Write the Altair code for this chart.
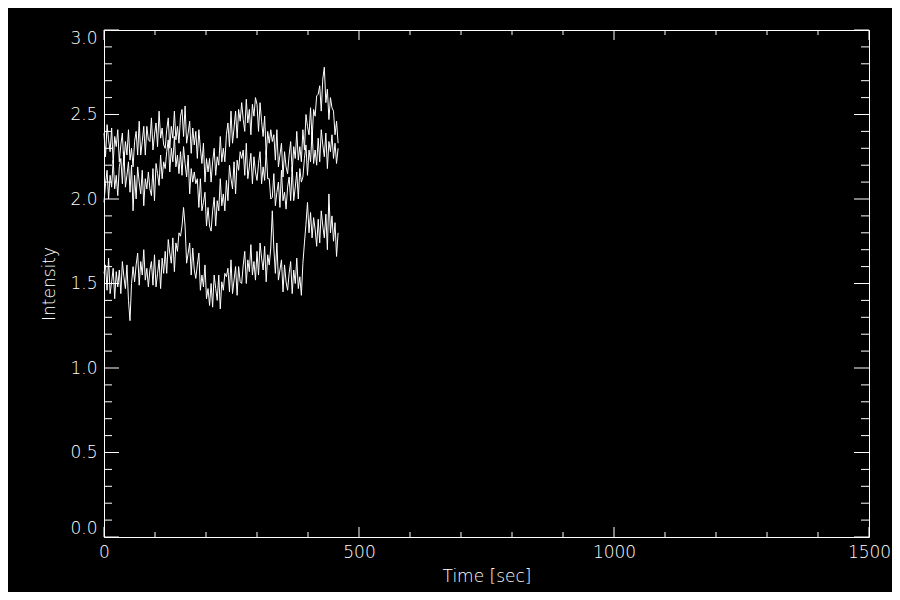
import altair as alt
import pandas as pd

# sample times (sec)
times = list(range(0, 460, 3))

series_a = [2.39, 2.25, 2.44, 2.35, 2.28, 2.42, 2.21, 2.37, 2.31, 2.41,
            2.22, 2.32, 2.39, 2.20, 2.34, 2.26, 2.41, 2.23, 2.30, 2.19,
            2.34, 2.40, 2.26, 2.46, 2.26, 2.34, 2.43, 2.26, 2.43, 2.35,
            2.34, 2.48, 2.29, 2.38, 2.45, 2.31, 2.52, 2.36, 2.42, 2.32,
            2.30, 2.41, 2.48, 2.30, 2.43, 2.36, 2.52, 2.35, 2.43, 2.33,
            2.49, 2.53, 2.37, 2.55, 2.33, 2.39, 2.46, 2.27, 2.42, 2.32,
            2.40, 2.24, 2.41, 2.30, 2.21, 2.33, 2.10, 2.24, 2.16, 2.24,
            2.10, 2.22, 2.30, 2.14, 2.25, 2.20, 2.37, 2.22, 2.30, 2.22,
            2.38, 2.45, 2.31, 2.52, 2.33, 2.42, 2.52, 2.36, 2.53, 2.46,
            2.57, 2.47, 2.40, 2.59, 2.45, 2.53, 2.38, 2.56, 2.49, 2.60,
            2.56, 2.40, 2.57, 2.46, 2.37, 2.49, 2.26, 2.40, 2.33, 2.41,
            2.34, 2.38, 2.23, 2.41, 2.19, 2.26, 2.33, 2.13, 2.28, 2.19,
            2.15, 2.26, 2.34, 2.16, 2.31, 2.24, 2.40, 2.23, 2.31, 2.22,
            2.41, 2.29, 2.50, 2.43, 2.38, 2.54, 2.35, 2.53, 2.49, 2.61,
            2.62, 2.67, 2.52, 2.71, 2.78, 2.57, 2.65, 2.47, 2.60, 2.54,
            2.52, 2.38, 2.46, 2.33]

series_b = [1.98, 2.09, 2.17, 2.00, 2.14, 2.07, 2.23, 2.06, 2.14, 2.02,
            2.19, 2.24, 2.09, 2.28, 2.07, 2.14, 2.22, 2.04, 2.20, 1.93,
            2.14, 2.00, 2.19, 2.10, 2.03, 2.17, 1.96, 2.12, 2.06, 2.16,
            2.06, 2.02, 2.18, 1.99, 2.21, 2.15, 2.08, 2.26, 2.12, 2.22,
            2.18, 2.28, 2.35, 2.16, 2.30, 2.22, 2.37, 2.19, 2.26, 2.15,
            2.28, 2.14, 2.31, 2.21, 2.13, 2.26, 2.03, 2.18, 2.10, 2.16,
            2.09, 2.12, 1.95, 2.12, 1.93, 1.98, 2.04, 1.84, 1.95, 1.84,
            1.81, 1.93, 2.01, 1.84, 1.99, 1.93, 2.12, 1.96, 2.03, 1.93,
            2.11, 1.99, 2.20, 2.12, 2.06, 2.22, 2.03, 2.23, 2.17, 2.28,
            2.24, 2.29, 2.14, 2.33, 2.12, 2.19, 2.27, 2.09, 2.25, 2.16,
            2.11, 2.21, 2.28, 2.09, 2.19, 2.11, 2.29, 2.12, 2.12, 2.00,
            2.01, 2.15, 1.96, 2.04, 2.10, 1.95, 2.17, 1.99, 2.04, 1.94,
            2.07, 2.13, 1.99, 2.19, 1.99, 2.07, 2.16, 2.00, 2.18, 2.10,
            2.13, 2.24, 2.32, 2.14, 2.29, 2.22, 2.40, 2.21, 2.29, 2.20,
            2.36, 2.22, 2.41, 2.32, 2.25, 2.39, 2.18, 2.34, 2.28, 2.38,
            2.24, 2.33, 2.21, 2.30]

series_c = [1.56, 1.61, 1.46, 1.65, 1.44, 1.51, 1.59, 1.41, 1.57, 1.48,
            1.58, 1.44, 1.63, 1.54, 1.47, 1.61, 1.40, 1.28, 1.50, 1.60,
            1.51, 1.61, 1.68, 1.49, 1.63, 1.55, 1.70, 1.52, 1.59, 1.48,
            1.58, 1.63, 1.49, 1.67, 1.48, 1.56, 1.64, 1.47, 1.65, 1.56,
            1.69, 1.56, 1.76, 1.68, 1.62, 1.77, 1.57, 1.74, 1.69, 1.80,
            1.78, 1.84, 1.95, 1.84, 1.62, 1.68, 1.74, 1.55, 1.71, 1.58,
            1.53, 1.61, 1.68, 1.46, 1.55, 1.48, 1.61, 1.41, 1.47, 1.37,
            1.50, 1.36, 1.55, 1.47, 1.40, 1.55, 1.35, 1.51, 1.46, 1.56,
            1.54, 1.59, 1.45, 1.64, 1.44, 1.52, 1.60, 1.43, 1.60, 1.51,
            1.50, 1.61, 1.69, 1.50, 1.64, 1.57, 1.73, 1.55, 1.63, 1.52,
            1.69, 1.55, 1.74, 1.65, 1.58, 1.72, 1.51, 1.67, 1.61, 1.71,
            1.93, 1.71, 1.56, 1.74, 1.52, 1.58, 1.64, 1.45, 1.61, 1.51,
            1.46, 1.56, 1.63, 1.44, 1.58, 1.50, 1.65, 1.47, 1.54, 1.43,
            1.62, 1.74, 1.85, 1.98, 1.80, 1.92, 1.77, 1.89, 1.82, 1.72,
            1.88, 1.74, 1.93, 1.84, 1.77, 1.91, 1.70, 2.03, 1.80, 1.90,
            1.75, 1.86, 1.66, 1.80]

x_major = [0, 500, 1000, 1500]
x_minor = [100, 200, 300, 400, 600, 700, 800, 900, 1100, 1200, 1300, 1400]
y_major = [0.0, 0.5, 1.0, 1.5, 2.0, 2.5, 3.0]
y_minor = [0.1, 0.2, 0.3, 0.4, 0.6, 0.7, 0.8, 0.9, 1.1, 1.2, 1.3, 1.4,
           1.6, 1.7, 1.8, 1.9, 2.1, 2.2, 2.3, 2.4, 2.6, 2.7, 2.8, 2.9]

W, H = 765, 507
FONT = "DejaVu Sans"
FW = 200

rows = []
for name, vals in (("a", series_a), ("b", series_b), ("c", series_c)):
    for t, v in zip(times, vals):
        rows.append({"t": t, "v": v, "s": name})
df = pd.DataFrame(rows)

xs = alt.Scale(domain=[0, 1500], nice=False, zero=False)
ys = alt.Scale(domain=[0, 3.0], nice=False, zero=False)

x_axis = alt.Axis(values=x_major, format="d", domain=False, ticks=False, grid=False,
                  tickSize=0, labelPadding=7, labelColor="white", labelFont=FONT,
                  labelFontSize=17, labelFontWeight=FW, labelFlush=False,
                  titleColor="white", titleFont=FONT, titleFontSize=17,
                  titleFontWeight=FW, titlePadding=8)
y_axis = alt.Axis(values=y_major, format=".1f", domain=False, ticks=False, grid=False,
                  tickSize=0, labelPadding=7, labelColor="white", labelFont=FONT,
                  labelFontSize=17, labelFontWeight=FW, labelFlush=True,
                  titleColor="white", titleFont=FONT, titleFontSize=17,
                  titleFontWeight=FW, titlePadding=11)

x_enc = alt.X("t:Q", scale=xs, title="Time [sec]", axis=x_axis)
y_enc = alt.Y("v:Q", scale=ys, title="Intensity", axis=y_axis)

lines = alt.Chart(df).mark_line(color="white", strokeWidth=1, interpolate="linear").encode(
    x=x_enc, y=y_enc, detail="s:N",
)

def xticks(vals, length):
    d = pd.DataFrame({"t": vals})
    base = alt.Chart(d).mark_rule(color="white", strokeWidth=1)
    bottom = base.encode(x=x_enc, y=alt.value(H), y2=alt.value(H - length))
    top = base.encode(x=x_enc, y=alt.value(0), y2=alt.value(length))
    return [bottom, top]

def yticks(vals, length):
    d = pd.DataFrame({"v": vals})
    base = alt.Chart(d).mark_rule(color="white", strokeWidth=1)
    left = base.encode(y=y_enc, x=alt.value(0), x2=alt.value(length))
    right = base.encode(y=y_enc, x=alt.value(W), x2=alt.value(W - length))
    return [left, right]

layers = [lines] + xticks(x_major, 10) + xticks(x_minor, 5) + yticks(y_major, 15) + yticks(y_minor, 8)

chart = alt.layer(*layers).properties(
    width=W, height=H,
    background="black",
    autosize=alt.AutoSizeParams(type="none"),
    padding={"left": 96, "top": 22, "right": 23, "bottom": 55},
).configure_view(stroke="white", strokeWidth=1, fill="black")

chart.save("out.html", embed_options={"renderer": "svg", "actions": False})
